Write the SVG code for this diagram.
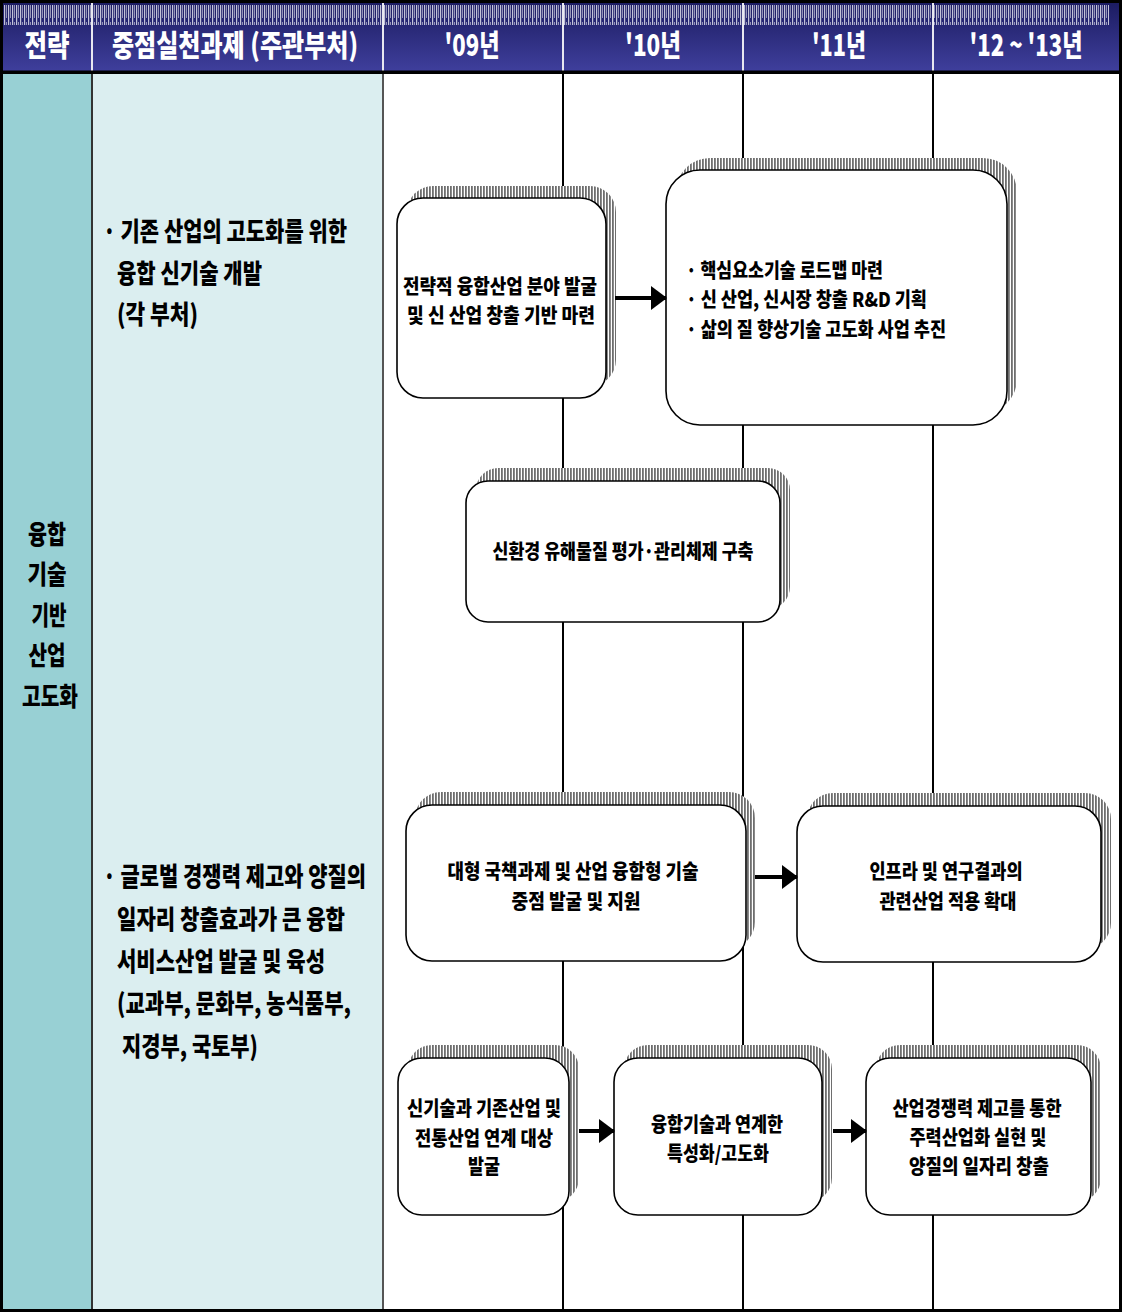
<svg xmlns="http://www.w3.org/2000/svg" width="1122" height="1312" viewBox="0 0 1122 1312">
  <defs>
    <linearGradient id="hdr" x1="0" y1="0" x2="0" y2="1">
      <stop offset="0" stop-color="#1c1c62"/>
      <stop offset="1" stop-color="#3f3f9c"/>
    </linearGradient>
    <pattern id="hdrHatch" width="4" height="20" patternUnits="userSpaceOnUse">
      <rect x="0" y="0" width="1.2" height="20" fill="#e0e0ec"/>
      <rect x="2" y="2" width="1" height="16" fill="#a8a8c4"/>
    </pattern>
    <pattern id="shade" width="3" height="4" patternUnits="userSpaceOnUse">
      <rect width="3" height="4" fill="#ffffff"/>
      <rect x="0" y="0" width="1.8" height="4" fill="#6e6e6e"/>
    </pattern>
    <marker id="arrow" markerUnits="userSpaceOnUse" markerWidth="16" markerHeight="24" refX="15" refY="12" orient="auto">
      <path d="M0,0 L16,12 L0,24 Z" fill="#000"/>
    </marker>
  </defs>
  <style>
    .hd { font-family: "Noto Sans CJK KR", "Noto Sans", sans-serif; font-weight: 900; font-size: 30px; fill: #ffffff; }
    .lt { font-family: "Noto Sans CJK KR", "Noto Sans", sans-serif; font-weight: 900; font-size: 26px; fill: #000; }
    .bx { font-family: "Noto Sans CJK KR", "Noto Sans", sans-serif; font-weight: 900; font-size: 20px; fill: #000; }
    .box { fill: #ffffff; stroke: #000; stroke-width: 1.6; }
    .shd { fill: url(#shade); }
    .grid { stroke: #000; stroke-width: 2; }
    .conn { stroke: #000; stroke-width: 4; fill: none; marker-end: url(#arrow); }
  </style>

  <!-- page background and column fills -->
  <rect x="0" y="0" width="1122" height="1312" fill="#ffffff"/>
  <rect x="3" y="74" width="89" height="1236" fill="#98d0d4"/>
  <rect x="92" y="74" width="291" height="1236" fill="#dbeef0"/>

  <!-- header band -->
  <g id="header">
    <rect x="0" y="0" width="1122" height="74" fill="#000"/>
    <rect x="3" y="3" width="1116" height="68" fill="url(#hdr)"/>
    <rect x="3" y="5" width="1106" height="20" fill="url(#hdrHatch)" opacity="0.85"/>
    <g stroke="#e8e8f0" stroke-width="2">
      <line x1="92" y1="3" x2="92" y2="71"/>
      <line x1="383" y1="3" x2="383" y2="71"/>
      <line x1="563" y1="3" x2="563" y2="71"/>
      <line x1="743" y1="3" x2="743" y2="71"/>
      <line x1="933" y1="3" x2="933" y2="71"/>
    </g>
    <text class="hd" x="47" y="56" text-anchor="middle" textLength="45" lengthAdjust="spacingAndGlyphs">전략</text>
    <text class="hd" x="235" y="56" text-anchor="middle" textLength="246" lengthAdjust="spacingAndGlyphs">중점실천과제 (주관부처)</text>
    <text class="hd" x="472" y="56" text-anchor="middle" textLength="55" lengthAdjust="spacingAndGlyphs">'09년</text>
    <text class="hd" x="653" y="56" text-anchor="middle" textLength="56" lengthAdjust="spacingAndGlyphs">'10년</text>
    <text class="hd" x="839" y="56" text-anchor="middle" textLength="54" lengthAdjust="spacingAndGlyphs">'11년</text>
    <text class="hd" x="1026" y="56" text-anchor="middle" textLength="113" lengthAdjust="spacingAndGlyphs">'12 ~ '13년</text>
  </g>

  <!-- table grid -->
  <g id="grid">
    <line x1="92" y1="74" x2="92" y2="1310" stroke="#333" stroke-width="2"/>
    <line x1="383" y1="74" x2="383" y2="1310" stroke="#555" stroke-width="2"/>
    <line class="grid" x1="563" y1="74" x2="563" y2="1310"/>
    <line class="grid" x1="743" y1="74" x2="743" y2="1310"/>
    <line class="grid" x1="933" y1="74" x2="933" y2="1310"/>
    <rect x="1.5" y="72" width="1119" height="1238.5" fill="none" stroke="#000" stroke-width="3"/>
  </g>

  <!-- strategy column -->
  <g id="strategy">
    <text class="lt" x="47" y="544" text-anchor="middle" textLength="38" lengthAdjust="spacingAndGlyphs">융합</text>
    <text class="lt" x="47" y="584" text-anchor="middle" textLength="39" lengthAdjust="spacingAndGlyphs">기술</text>
    <text class="lt" x="49" y="625" text-anchor="middle" textLength="35" lengthAdjust="spacingAndGlyphs">기반</text>
    <text class="lt" x="47" y="665" text-anchor="middle" textLength="37" lengthAdjust="spacingAndGlyphs">산업</text>
    <text class="lt" x="50" y="706" text-anchor="middle" textLength="56" lengthAdjust="spacingAndGlyphs">고도화</text>
  </g>

  <!-- task column -->
  <g id="task1">
    <text class="lt" x="103" y="241" textLength="244" lengthAdjust="spacingAndGlyphs">· 기존 산업의 고도화를 위한</text>
    <text class="lt" x="117" y="283" textLength="145" lengthAdjust="spacingAndGlyphs">융합 신기술 개발</text>
    <text class="lt" x="117" y="324" textLength="81" lengthAdjust="spacingAndGlyphs">(각 부처)</text>
  </g>
  <g id="task2">
    <text class="lt" x="103" y="886" textLength="263" lengthAdjust="spacingAndGlyphs">· 글로벌 경쟁력 제고와 양질의</text>
    <text class="lt" x="117" y="929" textLength="228" lengthAdjust="spacingAndGlyphs">일자리 창출효과가 큰 융합</text>
    <text class="lt" x="117" y="971" textLength="208" lengthAdjust="spacingAndGlyphs">서비스산업 발굴 및 육성</text>
    <text class="lt" x="117" y="1013" textLength="234" lengthAdjust="spacingAndGlyphs">(교과부, 문화부, 농식품부,</text>
    <text class="lt" x="122" y="1056" textLength="136" lengthAdjust="spacingAndGlyphs">지경부, 국토부)</text>
  </g>

  <!-- timeline nodes -->
  <g id="nodeA">
    <rect class="shd" x="407" y="186" width="209" height="200" rx="26"/>
    <rect class="box" x="397" y="198" width="209" height="200" rx="26"/>
    <text class="bx" x="500" y="294" text-anchor="middle" textLength="194" lengthAdjust="spacingAndGlyphs">전략적 융합산업 분야 발굴</text>
    <text class="bx" x="501" y="323" text-anchor="middle" textLength="188" lengthAdjust="spacingAndGlyphs">및 신 산업 창출 기반 마련</text>
  </g>
  <g id="nodeB">
    <rect class="shd" x="676" y="158" width="341" height="255" rx="34"/>
    <rect class="box" x="666" y="170" width="341" height="255" rx="34"/>
    <text class="bx" x="686" y="278" textLength="197" lengthAdjust="spacingAndGlyphs">· 핵심요소기술 로드맵 마련</text>
    <text class="bx" x="686" y="307" textLength="241" lengthAdjust="spacingAndGlyphs">· 신 산업, 신시장 창출 R&amp;D 기획</text>
    <text class="bx" x="686" y="337" textLength="260" lengthAdjust="spacingAndGlyphs">· 삶의 질 향상기술 고도화 사업 추진</text>
  </g>
  <g id="nodeC">
    <rect class="shd" x="476" y="468" width="314" height="141" rx="22"/>
    <rect class="box" x="466" y="481" width="314" height="141" rx="22"/>
    <text class="bx" x="623" y="559" text-anchor="middle" textLength="261" lengthAdjust="spacingAndGlyphs">신환경 유해물질 평가·관리체제 구축</text>
  </g>
  <g id="nodeD">
    <rect class="shd" x="415" y="792" width="340" height="156" rx="26"/>
    <rect class="box" x="406" y="805" width="340" height="156" rx="26"/>
    <text class="bx" x="573" y="879" text-anchor="middle" textLength="251" lengthAdjust="spacingAndGlyphs">대형 국책과제 및 산업 융합형 기술</text>
    <text class="bx" x="576" y="909" text-anchor="middle" textLength="129" lengthAdjust="spacingAndGlyphs">중점 발굴 및 지원</text>
  </g>
  <g id="nodeE">
    <rect class="shd" x="807" y="793" width="304" height="156" rx="26"/>
    <rect class="box" x="797" y="806" width="304" height="156" rx="26"/>
    <text class="bx" x="946" y="879" text-anchor="middle" textLength="153" lengthAdjust="spacingAndGlyphs">인프라 및 연구결과의</text>
    <text class="bx" x="948" y="909" text-anchor="middle" textLength="137" lengthAdjust="spacingAndGlyphs">관련산업 적용 확대</text>
  </g>
  <g id="nodeF">
    <rect class="shd" x="408" y="1045" width="171" height="157" rx="24"/>
    <rect class="box" x="398" y="1058" width="171" height="157" rx="24"/>
    <text class="bx" x="484" y="1116" text-anchor="middle" textLength="154" lengthAdjust="spacingAndGlyphs">신기술과 기존산업 및</text>
    <text class="bx" x="484" y="1146" text-anchor="middle" textLength="138" lengthAdjust="spacingAndGlyphs">전통산업 연계 대상</text>
    <text class="bx" x="484" y="1174" text-anchor="middle" textLength="32" lengthAdjust="spacingAndGlyphs">발굴</text>
  </g>
  <g id="nodeG">
    <rect class="shd" x="624" y="1045" width="208" height="157" rx="24"/>
    <rect class="box" x="614" y="1058" width="208" height="157" rx="24"/>
    <text class="bx" x="717" y="1132" text-anchor="middle" textLength="132" lengthAdjust="spacingAndGlyphs">융합기술과 연계한</text>
    <text class="bx" x="718" y="1161" text-anchor="middle" textLength="102" lengthAdjust="spacingAndGlyphs">특성화/고도화</text>
  </g>
  <g id="nodeH">
    <rect class="shd" x="876" y="1045" width="225" height="157" rx="24"/>
    <rect class="box" x="866" y="1058" width="225" height="157" rx="24"/>
    <text class="bx" x="977" y="1116" text-anchor="middle" textLength="169" lengthAdjust="spacingAndGlyphs">산업경쟁력 제고를 통한</text>
    <text class="bx" x="978" y="1145" text-anchor="middle" textLength="137" lengthAdjust="spacingAndGlyphs">주력산업화 실현 및</text>
    <text class="bx" x="979" y="1174" text-anchor="middle" textLength="140" lengthAdjust="spacingAndGlyphs">양질의 일자리 창출</text>
  </g>

  <!-- connectors -->
  <g id="connectors">
    <line class="conn" x1="615" y1="298" x2="666" y2="298"/>
    <line class="conn" x1="755" y1="877" x2="797" y2="877"/>
    <line class="conn" x1="579" y1="1131" x2="614" y2="1131"/>
    <line class="conn" x1="833" y1="1131" x2="866" y2="1131"/>
  </g>
</svg>
